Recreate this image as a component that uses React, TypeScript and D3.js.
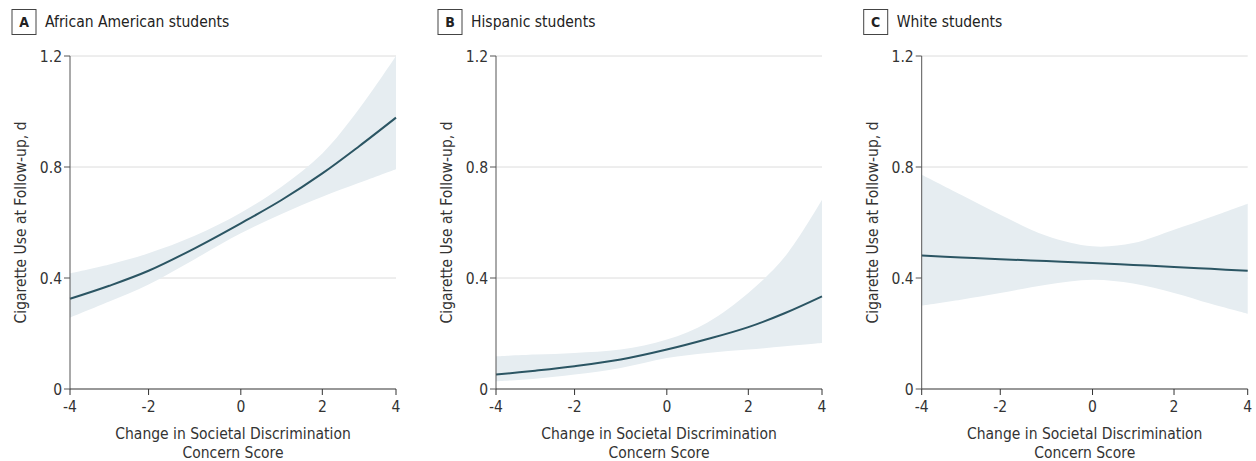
import React from 'react';
import * as d3 from 'd3';

// change in societal discrimination concern score
const xValues = [-4, -3, -2, -1, 0, 1, 2, 3, 4];
const xTicks = [-4, -2, 0, 2, 4];
const yTicks = [0, 0.4, 0.8, 1.2];

const panelLetters = ['A', 'B', 'C'];
const panelTitles = ['African American students', 'Hispanic students', 'White students'];

// predicted cigarette use (days) with 95% CI
const africanAmericanFit = [0.325, 0.372, 0.426, 0.507, 0.597, 0.681, 0.777, 0.875, 0.978];
const africanAmericanLower = [0.257, 0.315, 0.377, 0.468, 0.561, 0.631, 0.693, 0.743, 0.792];
const africanAmericanUpper = [0.417, 0.449, 0.489, 0.552, 0.635, 0.729, 0.849, 1.01, 1.2];

const hispanicFit = [0.052, 0.066, 0.082, 0.106, 0.142, 0.18, 0.223, 0.274, 0.334];
const hispanicLower = [0.028, 0.037, 0.052, 0.076, 0.112, 0.13, 0.142, 0.154, 0.166];
const hispanicUpper = [0.118, 0.124, 0.13, 0.142, 0.178, 0.24, 0.346, 0.478, 0.682];

const whiteFit = [0.481, 0.474, 0.468, 0.461, 0.454, 0.447, 0.44, 0.433, 0.426];
const whiteLower = [0.301, 0.322, 0.346, 0.376, 0.394, 0.38, 0.346, 0.307, 0.271];
const whiteUpper = [0.772, 0.7, 0.628, 0.552, 0.514, 0.526, 0.574, 0.62, 0.668];

const fits = [africanAmericanFit, hispanicFit, whiteFit];
const lowers = [africanAmericanLower, hispanicLower, whiteLower];
const uppers = [africanAmericanUpper, hispanicUpper, whiteUpper];

const W = 1256, H = 461;
const axisLeft = [70, 496, 921.7];
const plotW = 326;
const top = 56, bottom = 389;
// tick spacing in the original figure is not even
const tickFrac = [0, 0.241, 0.524, 0.774, 1];
const font = '"Liberation Sans Narrow", "DejaVu Sans Condensed", "Roboto", sans-serif';
const fs = 15.5;

const Panel = ({ i }: { i: number }) => {
  const x0 = axisLeft[i];
  const x = d3.scaleLinear().domain(xTicks).range(tickFrac.map(f => x0 + f * plotW));
  const y = d3.scaleLinear().domain([0, 1.2]).range([bottom, top]);
  const pts = xValues.map((v, j) => ({ v, fit: fits[i][j], lo: lowers[i][j], hi: uppers[i][j] }));
  const area = d3.area<any>().x(d => x(d.v)).y0(d => y(d.lo)).y1(d => y(d.hi)).curve(d3.curveCatmullRom);
  const line = d3.line<any>().x(d => x(d.v)).y(d => y(d.fit)).curve(d3.curveCatmullRom);
  const boxX = x0 - 58;
  const cx = x0 + plotW / 2;

  return (
    <g>
      <rect x={boxX} y={9.5} width={24} height={25} fill="none" stroke="#444" strokeWidth={1} />
      <text x={boxX + 12} y={27} textAnchor="middle" fontSize={14} fontWeight="bold" fill="#222">{panelLetters[i]}</text>
      <text x={boxX + 33} y={27} fontSize={15.5} fill="#222">{panelTitles[i]}</text>

      {yTicks.filter(t => t > 0).map(t => (
        <line key={t} x1={x0} x2={x0 + plotW} y1={y(t)} y2={y(t)} stroke="#dcdcdc" strokeWidth={1} />
      ))}
      <path d={area(pts) || ''} fill="#e6edf1" />
      <path d={line(pts) || ''} fill="none" stroke="#2b5563" strokeWidth={2} />

      <line x1={x0} x2={x0} y1={top} y2={bottom} stroke="#555" strokeWidth={1} />
      {yTicks.map(t => (
        <g key={t}>
          <line x1={x0 - 6} x2={x0} y1={y(t)} y2={y(t)} stroke="#555" />
          <text x={x0 - 8} y={y(t) + 5.5} textAnchor="end" fontSize={fs} fill="#333">{t === 0 ? '0' : d3.format('.1f')(t)}</text>
        </g>
      ))}
      <line x1={x0} x2={x0 + plotW} y1={bottom} y2={bottom} stroke="#333" strokeWidth={1.2} />
      {xTicks.map(t => (
        <g key={t}>
          <line x1={x(t)} x2={x(t)} y1={bottom} y2={bottom + 6} stroke="#333" />
          <text x={x(t)} y={412} textAnchor="middle" fontSize={fs} fill="#333">{t < 0 ? '-' + Math.abs(t) : t}</text>
        </g>
      ))}
      <text x={cx} y={438.5} textAnchor="middle" fontSize={fs} fill="#333">Change in Societal Discrimination</text>
      <text x={cx} y={458} textAnchor="middle" fontSize={fs} fill="#333">Concern Score</text>
      <text transform={`translate(${x0 - 44},${(top + bottom) / 2}) rotate(-90)`} textAnchor="middle" fontSize={fs} fill="#333">
        Cigarette Use at Follow-up, d
      </text>
    </g>
  );
};

export default function App() {
  return (
    <svg width={W} height={H} style={{ position: 'absolute', left: 0, top: 0, fontFamily: font, background: '#fff' }}>
      {[0, 1, 2].map(i => <Panel key={i} i={i} />)}
    </svg>
  );
}
